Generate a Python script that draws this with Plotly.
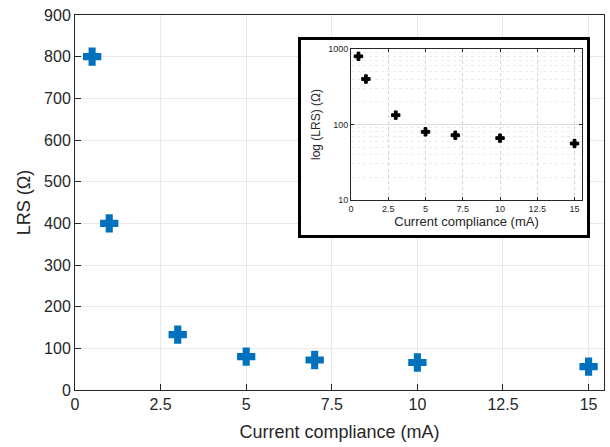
import plotly.graph_objects as go

# Data
current_compliance = [0.5, 1, 3, 5, 7, 10, 15]
lrs = [800, 400, 133, 80, 72, 66, 56]

x_ticks = [0, 2.5, 5, 7.5, 10, 12.5, 15]
x_ticklabels = ["0", "2.5", "5", "7.5", "10", "12.5", "15"]
y_ticks = [0, 100, 200, 300, 400, 500, 600, 700, 800, 900]
inset_y_ticks = [10, 100, 1000]

FONT = "Liberation Sans, Arial, Helvetica, sans-serif"
AX = "#262626"
BLUE = "#0072BD"

W, H = 610, 447
L, R, T, B = 75, 6, 15, 57
PW, PH = W - L - R, H - T - B


def px_x(p):
    return (p - L) / PW


def px_y(p):
    return (H - B - p) / PH


fig = go.Figure()

fig.add_trace(go.Scatter(
    x=current_compliance, y=lrs, mode="markers",
    marker=dict(symbol="cross", size=14, color=BLUE, line=dict(width=1.5, color=BLUE)),
    xaxis="x", yaxis="y", showlegend=False, hoverinfo="skip"))

# empty trace to create the white box subplot
fig.add_trace(go.Scatter(x=[], y=[], xaxis="x2", yaxis="y2", showlegend=False))

fig.add_trace(go.Scatter(
    x=current_compliance, y=lrs, mode="markers",
    marker=dict(symbol="cross", size=7, color="black", line=dict(width=1, color="black")),
    xaxis="x3", yaxis="y3", showlegend=False))

hidden = dict(showgrid=False, zeroline=False, showticklabels=False, ticks="",
              showline=True, mirror=True, linecolor="black", linewidth=2.5,
              range=[0, 1], fixedrange=True)

fig.update_layout(
    width=W, height=H,
    margin=dict(l=L, r=R, t=T, b=B),
    paper_bgcolor="white", plot_bgcolor="white",
    font=dict(family=FONT, color=AX),
    xaxis=dict(
        domain=[0, 1], range=[0, 15.45], tickvals=x_ticks, ticktext=x_ticklabels,
        showline=True, mirror=True, linecolor=AX, linewidth=1,
        ticks="inside", ticklen=6, tickcolor=AX,
        showgrid=True, gridcolor="#e8e8e8", zeroline=False,
        tickfont=dict(size=16, color=AX),
        title=dict(text="Current compliance (mA)", font=dict(size=18, color=AX), standoff=13),
    ),
    yaxis=dict(
        domain=[0, 1], range=[0, 900], tickvals=y_ticks,
        showline=True, mirror=True, linecolor=AX, linewidth=1,
        ticks="inside", ticklen=6, tickcolor=AX,
        showgrid=True, gridcolor="#e8e8e8", zeroline=False,
        tickfont=dict(size=16, color=AX),
        title=dict(text="LRS (Ω)", font=dict(size=18, color=AX), standoff=8),
    ),
    xaxis2=dict(domain=[px_x(301), px_x(587)], anchor="y2", **hidden),
    yaxis2=dict(domain=[px_y(235), px_y(40)], anchor="x2", **hidden),
    xaxis3=dict(
        domain=[px_x(351), px_x(582)], anchor="y3",
        range=[0, 15.5], tickvals=x_ticks, ticktext=x_ticklabels,
        showline=True, mirror="ticks", linecolor=AX, linewidth=1,
        ticks="inside", ticklen=3, tickcolor=AX,
        showgrid=True, gridcolor="#d4d4d4", griddash="dot", zeroline=False,
        tickfont=dict(size=9, color=AX),
        title=dict(text="Current compliance (mA)", font=dict(size=13, color=AX), standoff=2),
    ),
    yaxis3=dict(
        domain=[px_y(200), px_y(49)], anchor="x3",
        type="log", range=[1, 3], tickvals=inset_y_ticks, ticktext=["10", "100", "1000"],
        showline=True, mirror="ticks", linecolor=AX, linewidth=1,
        ticks="inside", ticklen=3, tickcolor=AX,
        showgrid=True, gridcolor="#dcdcdc", zeroline=False,
        minor=dict(showgrid=True, gridcolor="#ececec", griddash="dot",
                   tickvals=[20, 30, 40, 50, 60, 70, 80, 90, 200, 300, 400, 500, 600, 700, 800, 900]),
        tickfont=dict(size=9, color=AX),
        title=dict(text="log (LRS) (Ω)", font=dict(size=12, color=AX), standoff=4),
    ),
)

fig.write_html("out.html", config={"displayModeBar": False},
               post_script="document.body.style.margin='0';")
